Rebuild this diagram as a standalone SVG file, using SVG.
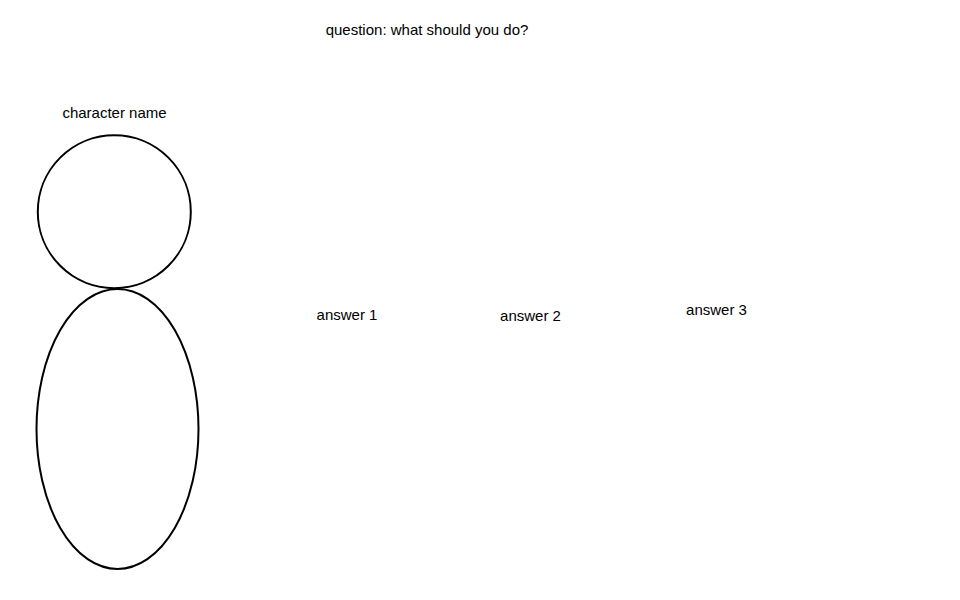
<svg xmlns="http://www.w3.org/2000/svg" width="960" height="600" viewBox="0 0 960 600">
<style>
.t{font-family:"Liberation Sans","Open Sans",sans-serif;font-size:15px;fill:#000;text-anchor:middle}
.s{fill:#fff;stroke:#000;stroke-width:2}
</style>
<rect width="960" height="600" fill="#fff"/>
<g id="question"><text class="t" x="427" y="35">question: what should you do?</text></g>
<g id="character">
<text class="t" x="114.5" y="118">character name</text>
<ellipse class="s" cx="117.5" cy="429" rx="81" ry="140"/>
<circle class="s" cx="114.3" cy="211.7" r="76.5"/>
</g>
<g id="answer1"><text class="t" x="347" y="320">answer 1</text></g>
<g id="answer2"><text class="t" x="530.5" y="321">answer 2</text></g>
<g id="answer3"><text class="t" x="716.5" y="315">answer 3</text></g>
<g id="connectors"></g>
</svg>
